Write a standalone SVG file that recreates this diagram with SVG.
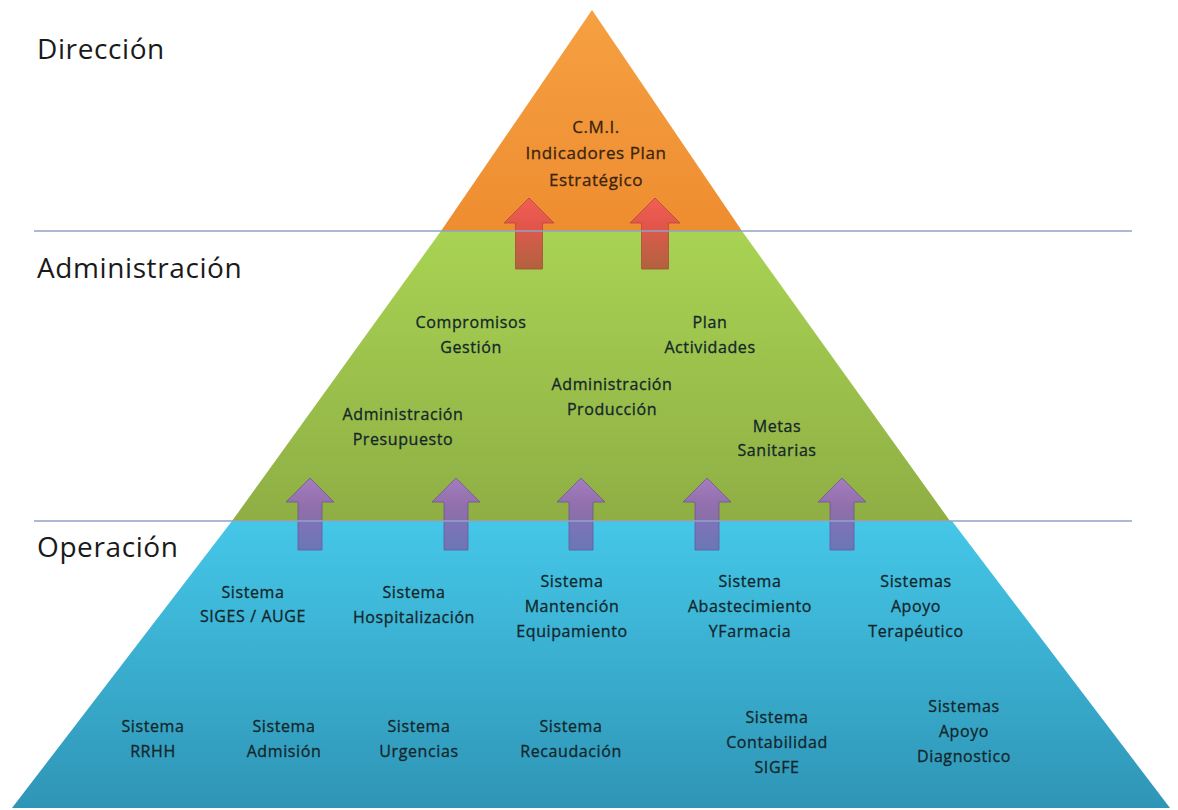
<svg xmlns="http://www.w3.org/2000/svg" width="1178" height="810" viewBox="0 0 1178 810">
  <defs>
    <linearGradient id="gOrange" x1="0" y1="0" x2="0" y2="1">
      <stop offset="0" stop-color="#f5a042"/>
      <stop offset="1" stop-color="#ee8d30"/>
    </linearGradient>
    <linearGradient id="gGreen" x1="0" y1="0" x2="0" y2="1">
      <stop offset="0" stop-color="#a8d353"/>
      <stop offset="1" stop-color="#8fae44"/>
    </linearGradient>
    <linearGradient id="gBlue" x1="0" y1="0" x2="0" y2="1">
      <stop offset="0" stop-color="#45c7e8"/>
      <stop offset="1" stop-color="#2f95b6"/>
    </linearGradient>
    <linearGradient id="gRed" x1="0" y1="0" x2="0" y2="1">
      <stop offset="0" stop-color="#f25a5a"/>
      <stop offset="0.45" stop-color="#e0504c"/>
      <stop offset="1" stop-color="#b3593e"/>
    </linearGradient>
    <linearGradient id="gPurple" x1="0" y1="0" x2="0" y2="1">
      <stop offset="0" stop-color="#a877cc"/>
      <stop offset="0.4" stop-color="#9168b8"/>
      <stop offset="1" stop-color="#6f6fb0"/>
    </linearGradient>
    <path id="arrowRed" d="M0,0 L25,25 L13.5,25 L13.5,71 L-13.5,71 L-13.5,25 L-25,25 Z"/>
    <path id="arrowPurple" d="M0,0 L24,24 L12,24 L12,72 L-12,72 L-12,24 L-24,24 Z"/>
  </defs>
  <style>
    .level { font-family: "Open Sans", "Liberation Sans", sans-serif; font-size: 28px; letter-spacing: 0.6px; fill: #1a1a1a; }
    .lbl { font-family: "Open Sans", "Liberation Sans", sans-serif; font-size: 16px; letter-spacing: 0.6px; fill: #13262a; stroke: #13262a; stroke-width: 0.3; text-anchor: middle; }
    .lblTop { font-family: "Open Sans", "Liberation Sans", sans-serif; font-size: 17px; letter-spacing: 0.6px; fill: #3a2410; stroke: #3a2410; stroke-width: 0.3; text-anchor: middle; }
    .sep { stroke: #8ea3c6; stroke-width: 1.5; fill: none; }
    .up-red { fill: url(#gRed); stroke: #a8443a; stroke-width: 0.8; opacity: 0.92; }
    .up-purple { fill: url(#gPurple); stroke: #6a4f98; stroke-width: 0.8; opacity: 0.9; }
  </style>

  <rect width="1178" height="810" fill="#ffffff"/>

  <!-- pyramid tiers -->
  <g id="tier-operacion">
    <polygon points="232,521 952,521 1170,808 12,808" fill="url(#gBlue)"/>
  </g>
  <g id="tier-administracion">
    <polygon points="441,231 742,231 950,521 232,521" fill="url(#gGreen)"/>
  </g>
  <g id="tier-direccion">
    <polygon points="592,10 742,231 441,231" fill="url(#gOrange)"/>
  </g>

  <!-- upward arrows between tiers -->
  <g id="connectors">
    <use href="#arrowRed" x="529" y="198" class="up-red"/>
    <use href="#arrowRed" x="655" y="198" class="up-red"/>
    <use href="#arrowPurple" x="310" y="478" class="up-purple"/>
    <use href="#arrowPurple" x="456" y="478" class="up-purple"/>
    <use href="#arrowPurple" x="581" y="478" class="up-purple"/>
    <use href="#arrowPurple" x="707" y="478" class="up-purple"/>
    <use href="#arrowPurple" x="842" y="478" class="up-purple"/>
  </g>

  <!-- tier separators -->
  <g id="separators">
    <line x1="34" y1="231" x2="1132" y2="231" class="sep"/>
    <line x1="34" y1="521" x2="1132" y2="521" class="sep"/>
  </g>

  <!-- level names -->
  <g id="level-names">
    <text class="level" x="37" y="59">Dirección</text>
    <text class="level" x="37" y="278">Administración</text>
    <text class="level" x="37" y="557">Operación</text>
  </g>

  <!-- Dirección -->
  <g id="cmi">
    <text class="lblTop" x="596" y="133">C.M.I.</text>
    <text class="lblTop" x="596" y="159">Indicadores Plan</text>
    <text class="lblTop" x="596" y="186">Estratégico</text>
  </g>

  <!-- Administración -->
  <g id="compromisos">
    <text class="lbl" x="471" y="328">Compromisos</text>
    <text class="lbl" x="471" y="353">Gestión</text>
  </g>
  <g id="plan-actividades">
    <text class="lbl" x="710" y="328">Plan</text>
    <text class="lbl" x="710" y="353">Actividades</text>
  </g>
  <g id="adm-produccion">
    <text class="lbl" x="612" y="390">Administración</text>
    <text class="lbl" x="612" y="415">Producción</text>
  </g>
  <g id="adm-presupuesto">
    <text class="lbl" x="403" y="420">Administración</text>
    <text class="lbl" x="403" y="445">Presupuesto</text>
  </g>
  <g id="metas">
    <text class="lbl" x="777" y="432">Metas</text>
    <text class="lbl" x="777" y="456">Sanitarias</text>
  </g>

  <!-- Operación, upper row -->
  <g id="siges">
    <text class="lbl" x="253" y="598">Sistema</text>
    <text class="lbl" x="253" y="622">SIGES / AUGE</text>
  </g>
  <g id="hospitalizacion">
    <text class="lbl" x="414" y="598">Sistema</text>
    <text class="lbl" x="414" y="623">Hospitalización</text>
  </g>
  <g id="mantencion">
    <text class="lbl" x="572" y="587">Sistema</text>
    <text class="lbl" x="572" y="612">Mantención</text>
    <text class="lbl" x="572" y="637">Equipamiento</text>
  </g>
  <g id="abastecimiento">
    <text class="lbl" x="750" y="587">Sistema</text>
    <text class="lbl" x="750" y="612">Abastecimiento</text>
    <text class="lbl" x="750" y="637">YFarmacia</text>
  </g>
  <g id="terapeutico">
    <text class="lbl" x="916" y="587">Sistemas</text>
    <text class="lbl" x="916" y="612">Apoyo</text>
    <text class="lbl" x="916" y="637">Terapéutico</text>
  </g>

  <!-- Operación, lower row -->
  <g id="rrhh">
    <text class="lbl" x="153" y="732">Sistema</text>
    <text class="lbl" x="153" y="757">RRHH</text>
  </g>
  <g id="admision">
    <text class="lbl" x="284" y="732">Sistema</text>
    <text class="lbl" x="284" y="757">Admisión</text>
  </g>
  <g id="urgencias">
    <text class="lbl" x="419" y="732">Sistema</text>
    <text class="lbl" x="419" y="757">Urgencias</text>
  </g>
  <g id="recaudacion">
    <text class="lbl" x="571" y="732">Sistema</text>
    <text class="lbl" x="571" y="757">Recaudación</text>
  </g>
  <g id="contabilidad">
    <text class="lbl" x="777" y="723">Sistema</text>
    <text class="lbl" x="777" y="748">Contabilidad</text>
    <text class="lbl" x="777" y="773">SIGFE</text>
  </g>
  <g id="diagnostico">
    <text class="lbl" x="964" y="712">Sistemas</text>
    <text class="lbl" x="964" y="737">Apoyo</text>
    <text class="lbl" x="964" y="762">Diagnostico</text>
  </g>
</svg>
